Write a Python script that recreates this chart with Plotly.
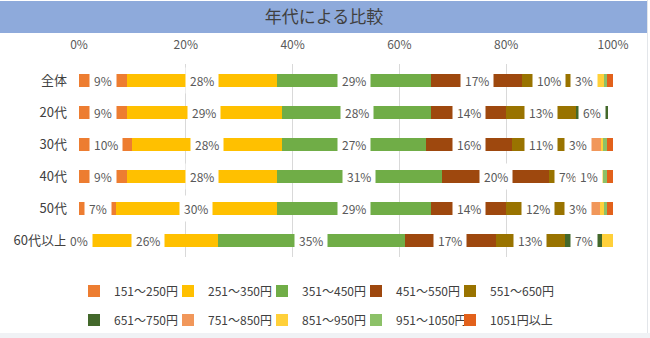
import plotly.graph_objects as go

# Age groups (rows, top to bottom)
categories = ["全体", "20代", "30代", "40代", "50代", "60代以上"]

# Price bands (stack order, left to right)
bands = ["151～250円", "251～350円", "351～450円", "451～550円", "551～650円",
         "651～750円", "751～850円", "851～950円", "951～1050円", "1051円以上"]

# Share of respondents per band (%), one list per band
v151 = [9, 9, 10, 9, 7, 0]
v251 = [28, 29, 28, 28, 30, 26]
v351 = [29, 28, 27, 31, 29, 35]
v451 = [17, 14, 16, 20, 14, 17]
v551 = [10, 13, 11, 7, 12, 13]
v651 = [3, 6, 3, 1, 3, 7]
v751 = [0.8, 0, 2.8, 1.2, 2.5, 0]
v851 = [1.5, 0, 0.4, 0.9, 0.8, 2]
v951 = [0.6, 0, 0.6, 0.8, 0.6, 0]
v1051 = [1.1, 0, 1.2, 1.1, 1.1, 0]

# Axis ticks
tick_values = [0, 20, 40, 60, 80, 100]
tick_labels = ["0%", "20%", "40%", "60%", "80%", "100%"]

series = [v151, v251, v351, v451, v551, v651, v751, v851, v951, v1051]
colors = ["#ED7D31", "#FFC000", "#70AD47", "#9E480E", "#997300",
          "#43682B", "#F1975A", "#FFD03A", "#8CC168", "#E2611B"]
labeled_series = 6  # only the first six bands carry value labels

# Figure geometry (pixels)
W, H = 650, 338
ML, MR, MT, MB = 79, 37, 64, 81
PW, PH = W - ML - MR, H - MT - MB


def px_x(p):
    return (p - ML) / PW


def px_y(p):
    return (H - MB - p) / PH


FONT = "Noto Sans CJK JP, Noto Sans, sans-serif"
TEXT = "#404040"

fig = go.Figure()
for i, (name, vals, col) in enumerate(zip(bands, series, colors)):
    last_in_row = (i % 5 == 4)
    fig.add_trace(go.Bar(
        y=categories, x=vals, name=name, orientation="h",
        marker=dict(color=col, line=dict(width=0)),
        legend="legend" if i < 5 else "legend2",
        legendwidth=80 if last_in_row else 49,
        hoverinfo="skip",
    ))

# Value labels with white boxes, centred on each segment
annotations = []
for si in range(labeled_series):
    for ci, cat in enumerate(categories):
        left = sum(series[k][ci] for k in range(si))
        v = series[si][ci]
        annotations.append(dict(
            x=left + v / 2, y=cat, xref="x", yref="y",
            text=f"{v:g}%", showarrow=False,
            font=dict(family=FONT, size=12, color="#595959"),
            bgcolor="white", borderpad=4,
            xanchor="center", yanchor="middle",
        ))

shapes = [
    # title band
    dict(type="rect", xref="paper", yref="paper",
         x0=px_x(0), x1=px_x(647), y0=px_y(33), y1=px_y(1),
         fillcolor="#8EAADB", line=dict(width=0), layer="below"),
    # chart frame edges
    dict(type="line", xref="paper", yref="paper",
         x0=px_x(647.5), x1=px_x(647.5), y0=px_y(333), y1=px_y(0),
         line=dict(color="#E3E6EA", width=1)),
    dict(type="rect", xref="paper", yref="paper",
         x0=px_x(0), x1=px_x(650), y0=px_y(338), y1=px_y(333),
         fillcolor="#F0F2F5", line=dict(width=0)),
]

legend_common = dict(
    orientation="h", xanchor="left", yanchor="middle",
    font=dict(family=FONT, size=12, color=TEXT),
    bgcolor="rgba(0,0,0,0)", itemwidth=30, traceorder="normal",
    entrywidthmode="pixels", itemclick=False,
)

fig.update_layout(
    width=W, height=H,
    margin=dict(l=ML, r=MR, t=MT, b=MB, pad=0, autoexpand=False),
    paper_bgcolor="white", plot_bgcolor="white",
    barmode="stack", bargap=0.6,
    title=dict(text="年代による比較", x=0.4985, xanchor="center",
               y=1 - 17 / H, yanchor="middle",
               font=dict(family=FONT, size=17, color=TEXT)),
    xaxis=dict(side="top", range=[0, 100], tickmode="array",
               tickvals=tick_values, ticktext=tick_labels,
               showgrid=True, gridcolor="#D9D9D9", gridwidth=1,
               zeroline=False, showline=False, ticks="",
               ticklabelstandoff=12,
               tickfont=dict(family=FONT, size=12, color="#595959"),
               fixedrange=True),
    yaxis=dict(autorange="reversed", showgrid=False, zeroline=False,
               showline=False, ticks="", ticklabelstandoff=11,
               tickfont=dict(family=FONT, size=13, color=TEXT),
               fixedrange=True),
    legend=dict(legend_common, x=px_x(74), y=px_y(291)),
    legend2=dict(legend_common, x=px_x(74), y=px_y(320)),
    annotations=annotations,
    shapes=shapes,
    showlegend=True,
)

fig.write_html("out.html", config={"displayModeBar": False})
